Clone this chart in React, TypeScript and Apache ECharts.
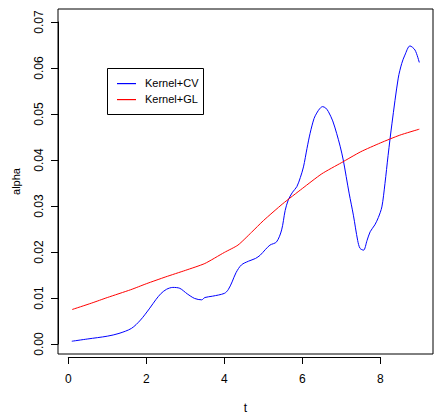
import React, { useEffect, useRef } from "react";
import * as echarts from "echarts";

const cvT = [0.09, 0.5, 1.0, 1.3, 1.62, 1.85, 2.09, 2.25, 2.38, 2.52, 2.68, 2.86, 3.05, 3.24, 3.42, 3.5, 3.7, 4.0, 4.1, 4.2, 4.3, 4.44, 4.62, 4.8, 4.92, 5.05, 5.17, 5.34, 5.47, 5.56, 5.64, 5.75, 5.86, 5.95, 6.03, 6.12, 6.2, 6.3, 6.37, 6.45, 6.52, 6.6, 6.67, 6.78, 6.88, 6.97, 7.05, 7.2, 7.31, 7.42, 7.48, 7.57, 7.66, 7.74, 7.86, 7.95, 8.04, 8.12, 8.2, 8.3, 8.46, 8.55, 8.63, 8.76, 8.89, 9.0];
const cvAlpha = [0.0006, 0.0011, 0.0017, 0.0023, 0.0034, 0.0052, 0.0078, 0.0097, 0.011, 0.0119, 0.0123, 0.0121, 0.0109, 0.0099, 0.0096, 0.0101, 0.0104, 0.011, 0.0118, 0.0135, 0.0155, 0.0172, 0.018, 0.0186, 0.0193, 0.0205, 0.0215, 0.0222, 0.0248, 0.029, 0.0313, 0.033, 0.0342, 0.0362, 0.0385, 0.0425, 0.0458, 0.049, 0.0502, 0.0512, 0.0516, 0.0513, 0.0505, 0.0485, 0.0458, 0.043, 0.04, 0.0328, 0.028, 0.0225, 0.0208, 0.0204, 0.0225, 0.0244, 0.0259, 0.0275, 0.0298, 0.0349, 0.041, 0.048, 0.0578, 0.061, 0.0628, 0.0648, 0.0639, 0.0612];

const glT = [0.1, 0.6, 1.0, 1.6, 2.0, 2.5, 3.0, 3.5, 4.0, 4.35, 4.7, 5.0, 5.5, 6.0, 6.5, 7.0, 7.5, 8.0, 8.5, 9.0];
const glAlpha = [0.0075, 0.0089, 0.0101, 0.0118, 0.0131, 0.0146, 0.016, 0.0175, 0.0199, 0.0215, 0.0243, 0.0268, 0.0305, 0.0338, 0.037, 0.0394, 0.0418, 0.0437, 0.0454, 0.0467];

const xTickMax = 8;
const xDataMax = 9;
const yTickMax = 0.07;
const seriesNames = ["Kernel+CV", "Kernel+GL"];
const seriesColors = ["#0000ff", "#ff0000"];

const FONT = "'Liberation Sans', Arial, Helvetica, sans-serif";

export default function App() {
  const ref = useRef<HTMLDivElement>(null);
  useEffect(() => {
    if (!ref.current) return;
    const chart = echarts.init(ref.current, undefined, { renderer: "svg" });
    const pair = (ts: number[], vs: number[]) => ts.map((t, i) => [t, vs[i]]);
    const hidden = { axisLine: { show: false }, axisTick: { show: false }, axisLabel: { show: false }, splitLine: { show: false } };
    const unit = 39;
    const legendRows = [83, 99];
    const legendGraphic: any[] = [
      {
        type: "rect", z: 100,
        shape: { x: 107.5, y: 68.5, width: 96, height: 46 },
        style: { fill: "#ffffff", stroke: "#000000", lineWidth: 1 },
      },
    ];
    seriesNames.forEach((n, i) => {
      legendGraphic.push({
        type: "rect", z: 101,
        shape: { x: 117, y: legendRows[i], width: 19, height: 1.2 },
        style: { fill: seriesColors[i], stroke: null, lineWidth: 0 },
      });
      legendGraphic.push({
        type: "text", z: 101, x: 145, y: legendRows[i],
        style: { text: n, fontFamily: FONT, fontSize: 11, fill: "#000000", verticalAlign: "middle", align: "left" },
      });
    });
    chart.setOption({
      animation: false,
      backgroundColor: "#ffffff",
      textStyle: { fontFamily: FONT },
      grid: [
        { left: 58, top: 9, width: 375, height: 348, show: true, borderColor: "#000", borderWidth: 1, backgroundColor: "transparent" },
        { left: 68.3, top: 22, width: unit * xDataMax, height: 322 },
        { left: 68.3, top: 22, width: unit * xTickMax, height: 322 },
      ],
      graphic: { elements: legendGraphic },
      xAxis: [
        {
          gridIndex: 0, type: "value", min: 0, max: 1, ...hidden,
          name: "t", nameLocation: "middle", nameGap: 48,
          nameTextStyle: { fontFamily: FONT, fontSize: 12, color: "#000" },
        },
        { gridIndex: 1, type: "value", min: 0, max: xDataMax, ...hidden },
        {
          gridIndex: 2, type: "value", min: 0, max: xTickMax, interval: 2, offset: 13,
          axisLine: { show: true, onZero: false, lineStyle: { color: "#000", width: 1 } },
          axisTick: { show: true, length: 7, lineStyle: { color: "#000" } },
          axisLabel: { margin: 16, fontFamily: FONT, fontSize: 12, color: "#000" },
          splitLine: { show: false },
        },
      ],
      yAxis: [
        {
          gridIndex: 0, type: "value", min: 0, max: 1, ...hidden,
          name: "alpha", nameLocation: "middle", nameGap: 37, nameRotate: 90,
          nameTextStyle: { fontFamily: FONT, fontSize: 11, color: "#000" },
        },
        { gridIndex: 1, type: "value", min: 0, max: yTickMax, ...hidden },
        {
          gridIndex: 2, type: "value", min: 0, max: yTickMax, interval: 0.01, offset: 10.3,
          axisLine: { show: true, onZero: false, lineStyle: { color: "#000", width: 1 } },
          axisTick: { show: true, length: 7, lineStyle: { color: "#000" } },
          axisLabel: {
            margin: 13, rotate: 90, fontFamily: FONT, fontSize: 12, color: "#000",
            formatter: (v: number) => v.toFixed(2),
          },
          splitLine: { show: false },
        },
      ],
      series: [
        {
          name: seriesNames[0], type: "line", xAxisIndex: 1, yAxisIndex: 1,
          data: pair(cvT, cvAlpha), smooth: 0.3, showSymbol: false,
          lineStyle: { color: seriesColors[0], width: 1 }, itemStyle: { color: seriesColors[0] },
        },
        {
          name: seriesNames[1], type: "line", xAxisIndex: 1, yAxisIndex: 1,
          data: pair(glT, glAlpha), smooth: 0.2, showSymbol: false,
          lineStyle: { color: seriesColors[1], width: 1 }, itemStyle: { color: seriesColors[1] },
        },
      ],
    });
    return () => chart.dispose();
  }, []);
  return <div ref={ref} style={{ position: "fixed", left: 0, top: 0, width: 434, height: 419 }} />;
}
